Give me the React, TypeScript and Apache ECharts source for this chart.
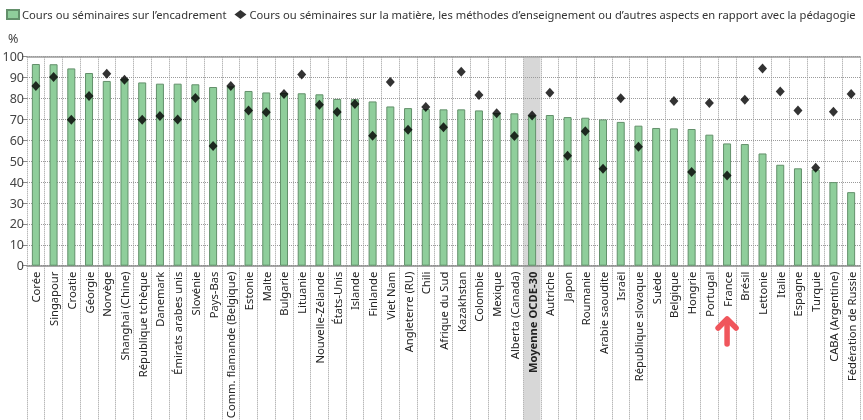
import { useEffect, useRef } from "react";
import * as echarts from "echarts";

const categories = [
  "Corée", "Singapour", "Croatie", "Géorgie", "Norvège", "Shanghai (Chine)",
  "République tchèque", "Danemark", "Émirats arabes unis", "Slovénie", "Pays-Bas",
  "Comm. flamande (Belgique)", "Estonie", "Malte", "Bulgarie", "Lituanie",
  "Nouvelle-Zélande", "États-Unis", "Islande", "Finlande", "Viet Nam",
  "Angleterre (RU)", "Chili", "Afrique du Sud", "Kazakhstan", "Colombie", "Mexique",
  "Alberta (Canada)", "Moyenne OCDE-30", "Autriche", "Japon", "Roumanie",
  "Arabie saoudite", "Israël", "République slovaque", "Suède", "Belgique", "Hongrie",
  "Portugal", "France", "Brésil", "Lettonie", "Italie", "Espagne", "Turquie",
  "CABA (Argentine)", "Fédération de Russie",
];

const encadrement = [
  96.5, 96.4, 94.4, 92.2, 88.4, 89.6, 87.7, 87.1, 87.1, 86.8, 85.5,
  85.8, 83.6, 82.9, 82.7, 82.5, 82.0, 79.8, 79.7, 78.6, 76.2,
  75.4, 75.0, 74.8, 74.8, 74.3, 73.0, 72.9, 71.9, 72.1, 71.1, 70.8,
  70.0, 68.8, 67.0, 65.9, 65.7, 65.4, 62.7, 58.5, 58.2, 53.7, 48.3, 46.6, 46.0,
  40.0, 35.2,
];

const pedagogie: (number | null)[] = [
  86.0, 90.3, 69.8, 81.2, 91.9, 89.0, 69.8, 71.6, 69.9, 80.2, 57.3,
  86.0, 74.3, 73.4, 82.1, 91.5, 77.0, 73.5, 77.4, 62.2, 87.9,
  65.0, 75.9, 66.2, 92.8, 81.7, 73.0, 62.0, 71.9, 82.8, 52.6, 64.3,
  46.4, 80.1, 56.9, null, 78.8, 44.8, 77.8, 43.1, 79.4, 94.3, 83.4, 74.3, 46.9,
  73.7, 82.1,
];

const legendNames = [
  "Cours ou séminaires sur l’encadrement",
  "Cours ou séminaires sur la matière, les méthodes d’enseignement ou d’autres aspects en rapport avec la pédagogie",
];

const highlight = "Moyenne OCDE-30";
const arrowTarget = "France";

export default function App() {
  const ref = useRef<HTMLDivElement>(null);

  useEffect(() => {
    const chart = echarts.init(ref.current!, null, { renderer: "svg" });
    const font = "'Noto Sans', 'Open Sans', sans-serif";
    const gridColor = "#9a9a9a";

    chart.setOption({
      animation: false,
      textStyle: { fontFamily: font },
      legend: {
        left: 6,
        top: 9,
        padding: 0,
        width: 860,
        itemWidth: 12,
        itemHeight: 9,
        itemGap: 8,
        textStyle: { fontSize: 11.2, color: "#333", fontFamily: font, padding: [0, 0, 0, -2] },
        data: [
          { name: legendNames[0], icon: "rect" },
          { name: legendNames[1], icon: "diamond" },
        ],
      },
      grid: { left: 27, right: 3, top: 56.7, bottom: 154.3, outerBoundsMode: "none", containLabel: false },
      xAxis: [
        {
          type: "category",
          data: categories,
          position: "bottom",
          axisLine: { show: true, lineStyle: { color: "#8a8a8a", width: 1.5 } },
          axisTick: {
            show: true,
            interval: 0,
            length: 160,
            lineStyle: { color: gridColor, type: "dotted", width: 1 },
          },
          splitLine: {
            show: true,
            interval: 0,
            lineStyle: { color: gridColor, type: "dotted", width: 1 },
          },
          axisLabel: {
            interval: 0,
            rotate: 90,
            margin: 6,
            fontSize: 11.2,
            color: "#222",
            fontFamily: font,
            formatter: (v: string) => (v === highlight ? `{b|${v}}` : v),
            rich: { b: { fontWeight: "bold", fontSize: 11.2, color: "#222", fontFamily: font } },
          },
        },
        {
          type: "category",
          data: categories,
          position: "top",
          axisLine: { show: true, lineStyle: { color: "#9a9a9a", width: 1.5 } },
          axisTick: { show: false },
          axisLabel: { show: false },
          splitLine: { show: false },
        },
      ],
      yAxis: {
        type: "value",
        min: 0,
        max: 100,
        interval: 10,
        axisLine: { show: false },
        axisTick: { show: true, length: 5, lineStyle: { color: "#8a8a8a" } },
        axisLabel: { fontSize: 12.5, color: "#444", margin: 3, fontFamily: font },
        splitLine: { show: true, lineStyle: { color: gridColor, type: "dotted", width: 1 } },
      },
      series: [
        {
          name: legendNames[0],
          type: "bar",
          data: encadrement,
          barWidth: 8,
          itemStyle: { color: "#8fce9b", borderColor: "#63906b", borderWidth: 1 },
          z: 2,
        },
        {
          name: legendNames[1],
          type: "scatter",
          data: pedagogie,
          symbol: "diamond",
          symbolSize: [9, 10],
          itemStyle: { color: "#000" },
          z: 3,
        },
      ],
    });

    const xOf = (c: string) => chart.convertToPixel({ xAxisIndex: 0 }, c) as number;
    const band = xOf(categories[1]) - xOf(categories[0]);
    const hx = xOf(highlight);
    const topY = chart.convertToPixel({ yAxisIndex: 0 }, 100) as number;
    const fx = xOf(arrowTarget);

    chart.setOption({
      graphic: [
        {
          type: "rect",
          z: -1,
          silent: true,
          shape: { x: hx - band / 2 + 0.5, y: topY + 1, width: band - 1, height: 420 - topY },
          style: { fill: "#d7d7d7" },
        },
        {
          type: "text",
          left: 8,
          top: 32,
          style: { text: "%", fontSize: 12.5, fill: "#444", fontFamily: font },
        },
        {
          type: "polyline",
          z: 10,
          shape: { points: [[fx, 344], [fx, 321]] },
          style: { stroke: "#f0565c", lineWidth: 5.5, lineCap: "round", fill: null },
        },
        {
          type: "polyline",
          z: 10,
          shape: { points: [[fx - 9, 328], [fx, 319], [fx + 9, 328]] },
          style: { stroke: "#f0565c", lineWidth: 5.5, lineCap: "round", lineJoin: "round", fill: null },
        },
      ],
    });

    return () => chart.dispose();
  }, []);

  return (
    <div
      ref={ref}
      style={{ position: "fixed", left: 0, top: 0, width: 863, height: 420 }}
    />
  );
}
